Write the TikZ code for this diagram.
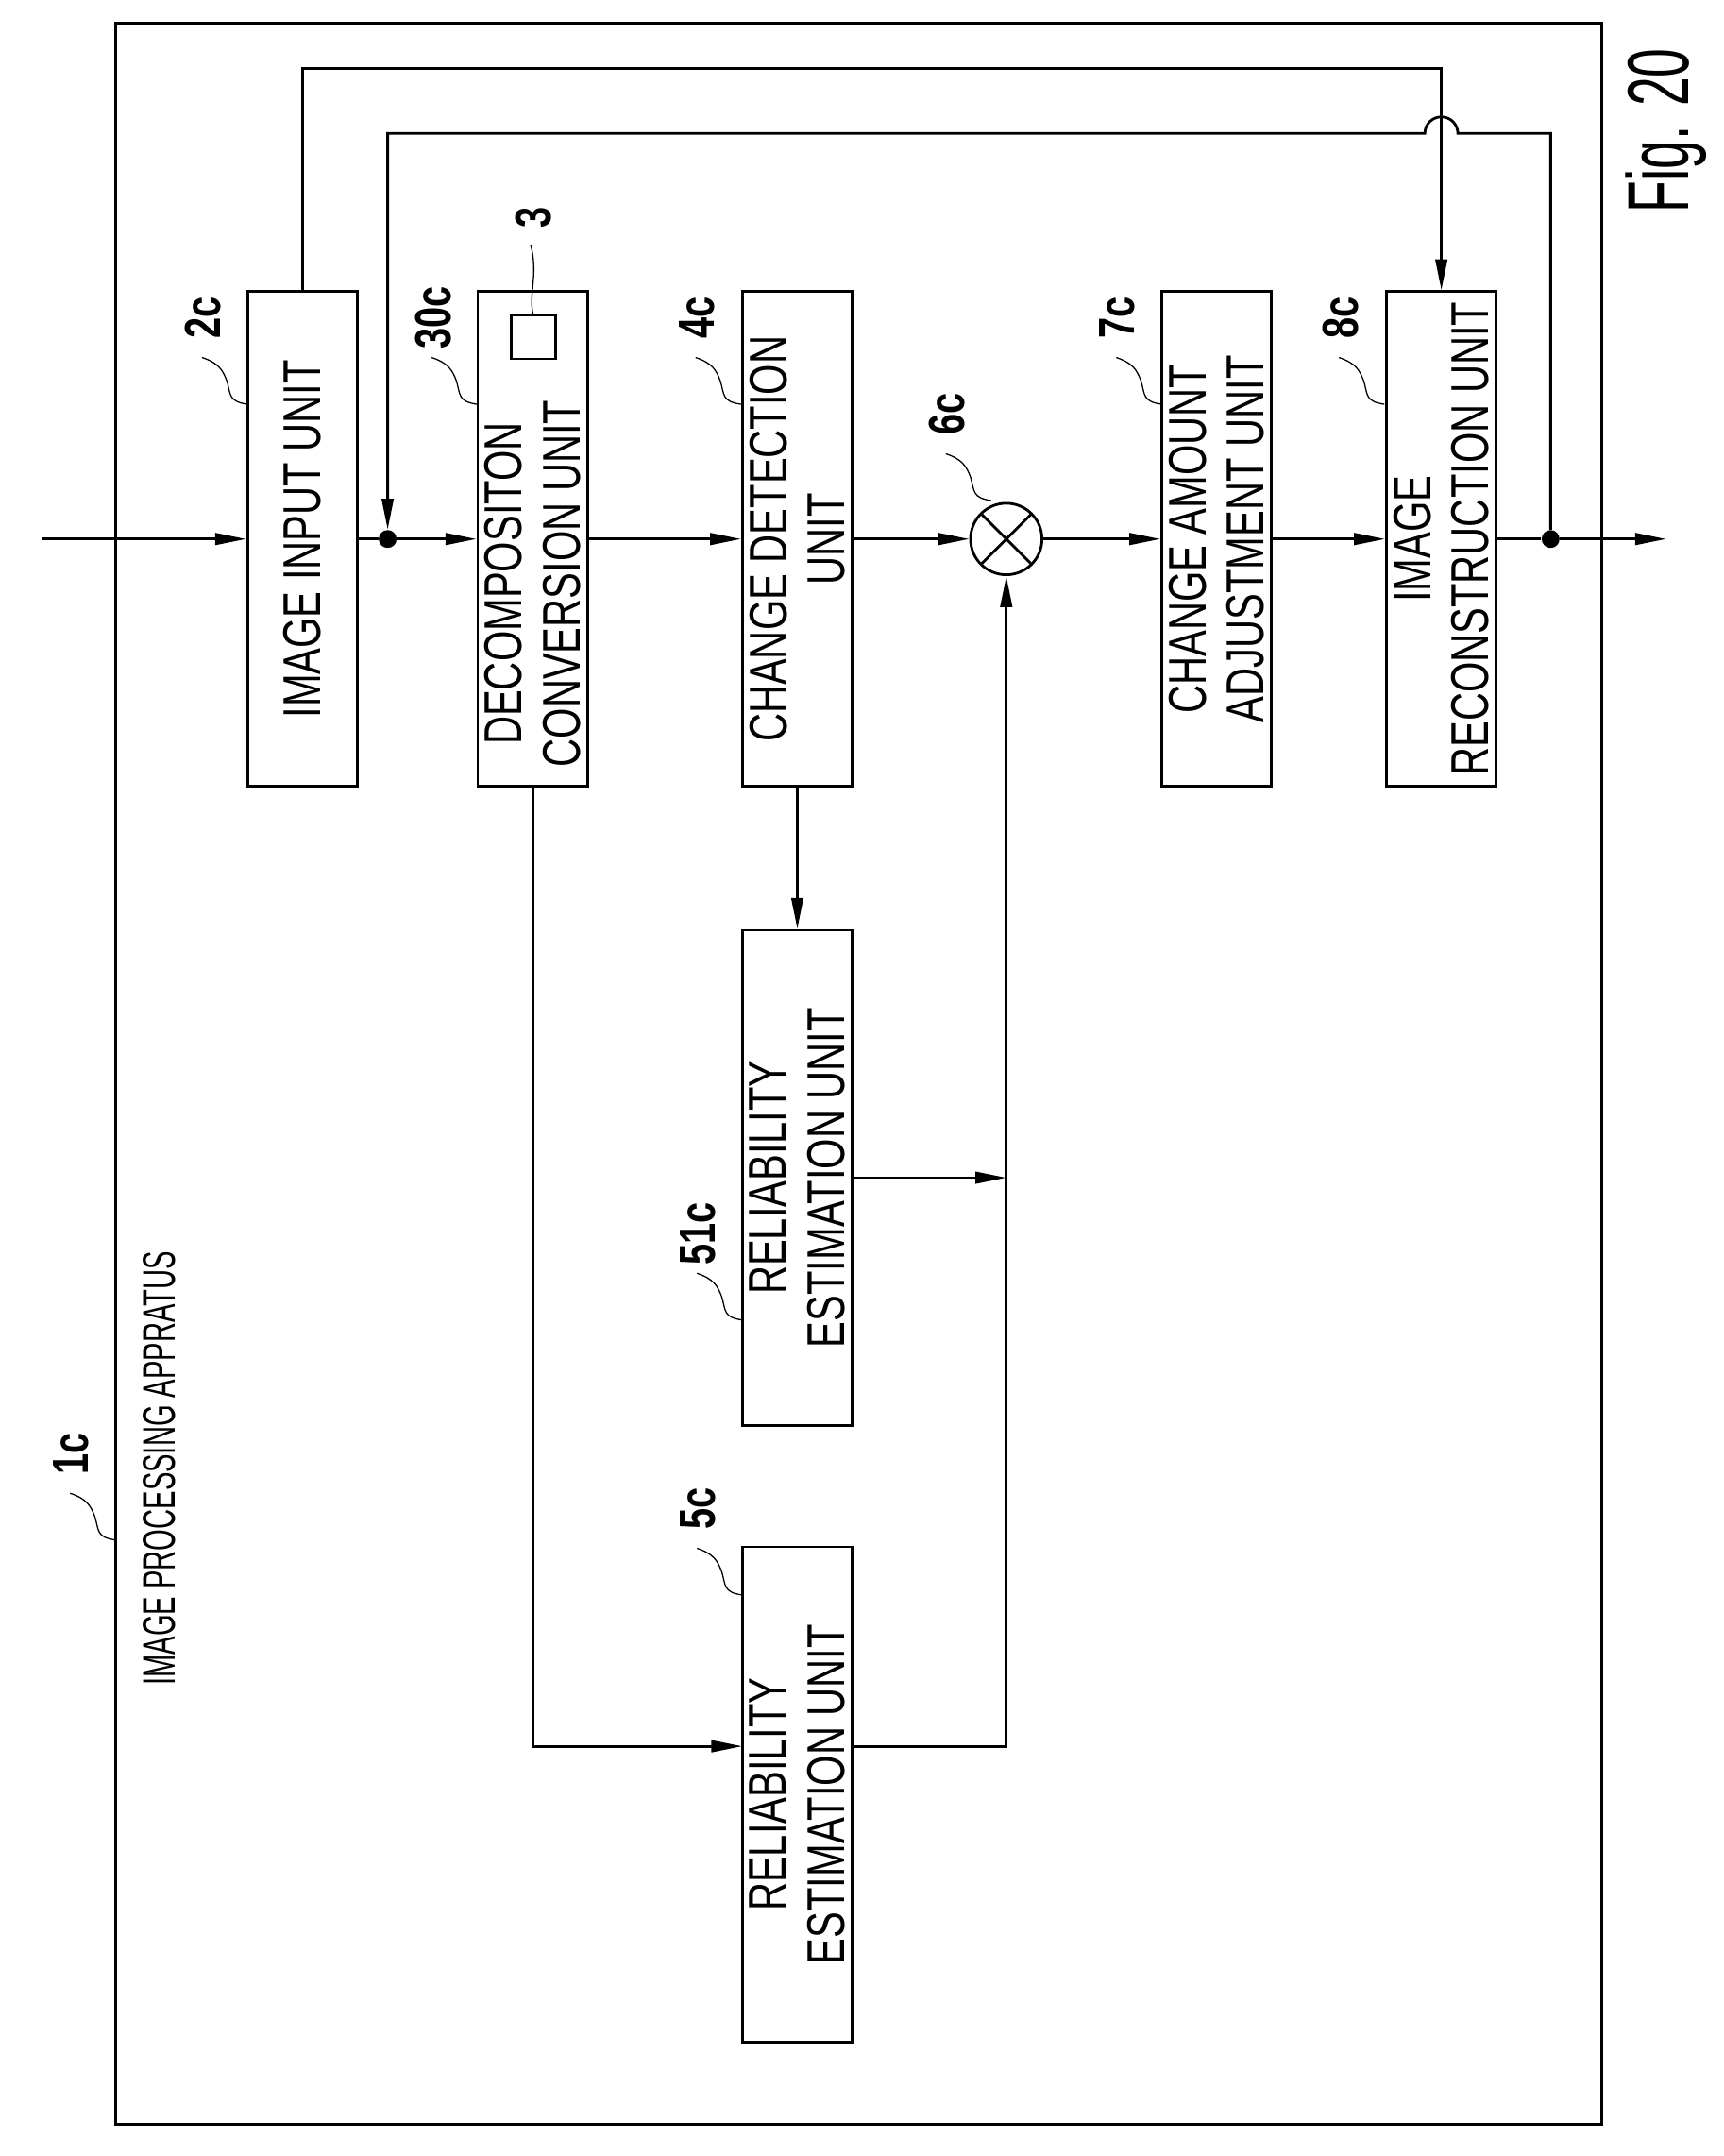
\documentclass[tikz,border=0pt]{standalone}
\usepackage{fontspec}
\setmainfont[FakeStretch=0.74]{Liberation Sans}
\newfontfamily\narrowfont[FakeStretch=0.6]{Liberation Sans}
\usetikzlibrary{arrows.meta,calc}

\tikzset{
	block/.style={draw, line width=1.1pt, rotate=90, minimum width=7.2cm, minimum height=1.6cm, align=center, inner sep=1pt, font=\fontsize{22}{24}\selectfont},
	sig/.style={line width=1.1pt},
	arr/.style={sig, -{Triangle[length=4.5mm,width=1.7mm]}},
	dot/.style={circle, fill, inner sep=0pt, minimum size=0.26cm},
	leader/.style={line width=0.5pt},
	tag/.style={rotate=90, font=\fontsize{21}{23}\selectfont\bfseries}
}
% squiggly reference line from a point, with its number above it
\newcommand{\reftag}[3]{
	\draw[leader] (#1) .. controls +(-14,-2) and +(3,10) .. ++(-15,-17) .. controls +(-3,-8) and +(12,4) .. ++(-18,-17);
	\node[tag] (#3) at ($(#1)+(-32,-63)$) {#2};
}

\begin{document}
\begin{tikzpicture}[x=0.02cm, y=-0.02cm]
	\useasboundingbox (0,0) rectangle (1254,1568);
	\draw[line width=1.1pt] (84,17) rectangle (1165,1545);

	\node[block] (in) at (220,392) {IMAGE INPUT UNIT};
	\node[block] (dec) at (387.5,392) {DECOMPOSITON\hspace*{1.3cm}\\CONVERSION UNIT\hspace*{1.3cm}};
	\draw[line width=1.1pt] (372,229) rectangle (404,261);
	\node[block] (chg) at (580,392) {CHANGE DETECTION\\UNIT};
	\node[draw, circle, line width=1.1pt, minimum size=1.04cm,
		path picture={\draw[line width=1.1pt] (path picture bounding box.north west) -- (path picture bounding box.south east)
			(path picture bounding box.north east) -- (path picture bounding box.south west);}] (mul) at (732,392) {};
	\node[block] (amt) at (885,392) {CHANGE AMOUNT\\ADJUSTMENT UNIT};
	\node[block] (rec) at (1048.5,392) {IMAGE\\RECONSTRUCTION UNIT};
	\node[block] (rel51) at (580,856.5) {RELIABILITY\\ESTIMATION UNIT};
	\node[block] (rel5) at (580,1305) {RELIABILITY\\ESTIMATION UNIT};

	\node[dot] (dot1) at (282,392) {};
	\node[dot] (dot2) at (1128,392) {};
	\coordinate (src) at (30,392);
	\coordinate (dst) at (1212,392);
	\coordinate (topA) at (1048.5,50);
	\coordinate (j1) at (732,856.5);
	\coordinate (r5in) at (540,1270);
	\coordinate (r5out) at (620,1270);
	\coordinate (j5) at (732,1270);

	% main signal path
	\draw[arr] (src) -- (in.north);
	\draw[sig] (in.south) -- (dot1);
	\draw[arr] (dot1) -- (dec.north);
	\draw[arr] (dec.south) -- (chg.north);
	\draw[arr] (chg.south) -- (mul.west);
	\draw[arr] (mul.east) -- (amt.north);
	\draw[arr] (amt.south) -- (rec.north);
	\draw[sig] (rec.south) -- (dot2);
	\draw[arr] (dot2) -- (dst);

	% feedback lines
	\draw[arr] (in.east) |- (topA) -- (rec.east);
	\draw[arr] (dot2) -- (1128,97) -- (1060.5,97) arc[start angle=0, end angle=180, radius=0.24cm] -- (282,97) -- (dot1);

	% reliability branches
	\draw[arr] (dec.west) |- (r5in);
	\draw[arr] (chg.west) -- (rel51.east);
	\draw[arr] (rel51.south) -- (j1);
	\draw[arr] (r5out) -- (j5) -- (mul.south);

	% reference numbers
	\reftag{180,294}{2c}{t2}
	\reftag{347,294}{30c}{t30}
	\reftag{539,294}{4c}{t4}
	\reftag{845,294}{7c}{t7}
	\reftag{1007,294}{8c}{t8}
	\reftag{721,364}{6c}{t6}
	\reftag{540,960}{51c}{t51}
	\reftag{540,1160}{5c}{t5}
	\reftag{84,1120}{1c}{t1}
	\draw[leader] (388,229) .. controls (384,215) and (392,200) .. (386,178);
	\node[tag] (t3) at (388,158) {3};

	\node[rotate=90, anchor=west, font=\fontsize{19}{21}\narrowfont] (title) at (116,1232) {IMAGE PROCESSING APPRATUS};
	\node[rotate=90, font=\fontsize{36}{38}\narrowfont] (fig) at (1212,95) {Fig. 20};
\end{tikzpicture}
\end{document}
